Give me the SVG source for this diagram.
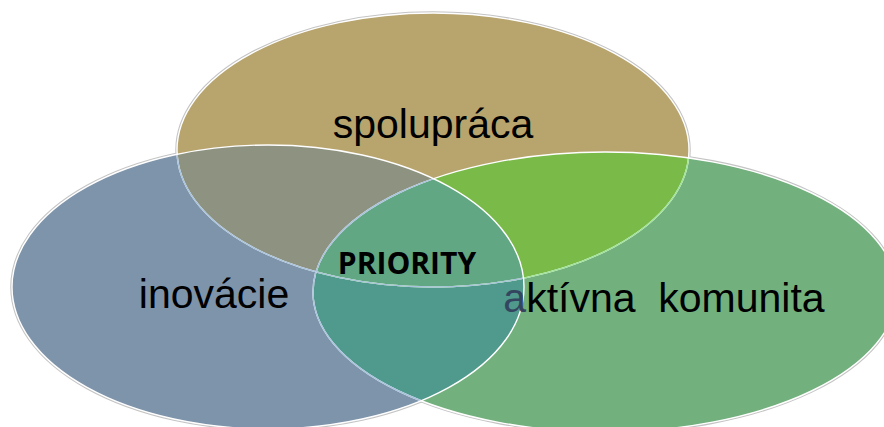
<svg xmlns="http://www.w3.org/2000/svg" width="884" height="427" viewBox="0 0 884 427">
  <defs>
    <ellipse id="eTop" cx="433" cy="150" rx="256" ry="137"/>
    <ellipse id="eLeft" cx="268" cy="287" rx="256" ry="142"/>
    <ellipse id="eRight" cx="605" cy="292" rx="292" ry="140"/>
    <clipPath id="cTop"><use href="#eTop"/></clipPath>
    <clipPath id="cLeft"><use href="#eLeft"/></clipPath>
    <clipPath id="cRight"><use href="#eRight"/></clipPath>
    <style>
      .shadow { fill: none; stroke: #c4c4c4; stroke-width: 3.5; }
      .edge { fill: none; stroke: #ffffff; stroke-width: 1.4; }
      .edgeBlue { fill: none; stroke: #a9c3dc; stroke-width: 1.4; }
      .edgeGreen { fill: none; stroke: #9fe39a; stroke-width: 1.4; }
      .lbl { font-family: "Liberation Sans", Arial, sans-serif; font-size: 41px; fill: #000000; text-anchor: middle; }
      .core { font-family: "Open Sans", "Liberation Sans", Arial, sans-serif; font-size: 30px; font-weight: bold; fill: #000000; text-anchor: middle; }
    </style>
  </defs>
  <rect width="884" height="427" fill="#ffffff"/>

  <g id="outlines">
    <use href="#eTop" class="shadow"/>
    <use href="#eLeft" class="shadow"/>
    <use href="#eRight" class="shadow"/>
  </g>

  <g id="spolupraca">
    <use href="#eTop" fill="#b8a46d"/>
    <text class="lbl" x="433" y="138">spolupráca</text>
  </g>

  <g id="aktivna-komunita">
    <use href="#eRight" fill="#72b07d"/>
    <g clip-path="url(#cTop)"><use href="#eRight" fill="#7aba48"/></g>
  </g>

  <g id="inovacie">
    <use href="#eLeft" fill="#7e94ab"/>
    <g clip-path="url(#cTop)"><use href="#eLeft" fill="#8d9380"/></g>
    <g clip-path="url(#cRight)"><use href="#eLeft" fill="#4f998d"/></g>
    <g clip-path="url(#cRight)"><g clip-path="url(#cTop)"><use href="#eLeft" fill="#62a783"/></g></g>
    <text class="lbl" x="214" y="308">inovácie</text>
  </g>

  <g id="connectors">
    <use href="#eTop" class="edge"/>
    <g clip-path="url(#cRight)"><use href="#eTop" class="edgeGreen"/></g>
    <g clip-path="url(#cLeft)"><use href="#eTop" class="edgeBlue"/></g>
    <use href="#eRight" class="edge"/>
    <g clip-path="url(#cLeft)"><use href="#eRight" class="edgeBlue"/></g>
    <use href="#eLeft" class="edge"/>
  </g>

  <g id="aktivna-komunita-label">
    <text class="lbl" x="664" y="312" xml:space="preserve"><tspan fill="#34465f">a</tspan>ktívna  komunita</text>
  </g>

  <g id="priority">
    <text class="core" x="407" y="274">PRIORITY</text>
  </g>
</svg>
